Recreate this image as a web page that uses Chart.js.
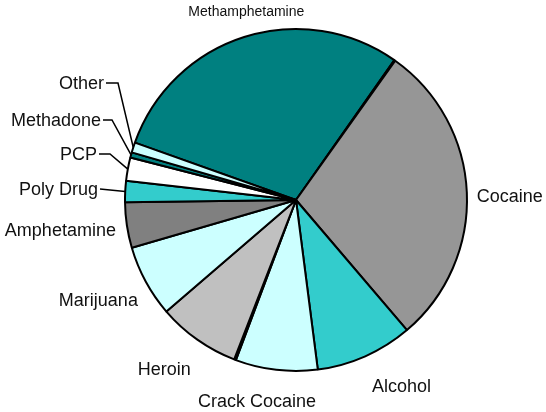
<!DOCTYPE html>
<html>
<head>
<meta charset="utf-8">
<script src="https://cdn.jsdelivr.net/npm/chart.js@4.4.1/dist/chart.umd.min.js"></script>
<style>
  html, body { margin: 0; padding: 0; background: #fff; }
  #wrap { width: 546px; height: 412px; }
</style>
</head>
<body>
<div id="wrap"><canvas id="drugChart" width="546" height="412"></canvas></div>
<script>
// Share of cases by primary drug (percent). Two unlabeled slivers sit between
// Methamphetamine/Cocaine and Crack Cocaine/Heroin.
const drugLabels = [
  "Methamphetamine", "", "Cocaine", "Alcohol", "Crack Cocaine", "",
  "Heroin", "Marijuana", "Amphetamine", "Poly Drug", "PCP", "Methadone", "Other"
];
const drugShares = [29.3, 0.1, 28.9, 9.2, 7.75, 0.17, 7.8, 6.8, 4.3, 2.0, 2.2, 0.5, 0.95];
const sliceColors = [
  "#008080", "#ffffff", "#969696", "#33cccc", "#ccffff", "#ffffff",
  "#c0c0c0", "#ccffff", "#808080", "#33cccc", "#ffffff", "#008080", "#ccffff"
];

// How each label sits next to its slice: radial labels use gap/align/offsets,
// the small left-hand slices get a leader line with an elbow.
const labelPlacement = [
  { gap: 26, align: "center", dx: 10, dy: 0, size: 14 },
  null,
  { gap: 10, align: "left", dx: 0, dy: 5 },
  { gap: 24, align: "left", dx: -3, dy: 9 },
  { gap: 29, align: "center", dx: -16, dy: 3 },
  null,
  { gap: 33, align: "center", dx: -14, dy: 3 },
  { gap: 10, align: "right", dx: 1, dy: 15 },
  { gap: 4, align: "right", dx: -7, dy: 5 },
  { leader: true, textX: 98, textY: 190, elbowX: 100 },
  { leader: true, textX: 97, textY: 155, elbowX: 110 },
  { leader: true, textX: 101, textY: 121, elbowX: 112 },
  { leader: true, textX: 104, textY: 84, elbowX: 118 }
];

const sliceLabels = {
  id: "sliceLabels",
  afterDatasetsDraw(chart) {
    const ctx = chart.ctx;
    const arcs = chart.getDatasetMeta(0).data;
    ctx.save();
    ctx.fillStyle = "#111";
    ctx.strokeStyle = "#000";
    ctx.lineWidth = 1.5;
    ctx.textBaseline = "middle";
    arcs.forEach((arc, i) => {
      const place = labelPlacement[i];
      if (!place) return;
      const mid = (arc.startAngle + arc.endAngle) / 2;
      const cos = Math.cos(mid), sin = Math.sin(mid);
      ctx.font = (place.size || 18) + "px 'Liberation Sans', Arial, sans-serif";
      if (place.leader) {
        const ex = arc.x + cos * arc.outerRadius;
        const ey = arc.y + sin * arc.outerRadius;
        const sy = place.textY - 1;
        ctx.beginPath();
        ctx.moveTo(place.textX + 2, sy);
        ctx.lineTo(place.elbowX, sy);
        ctx.lineTo(ex, ey);
        ctx.stroke();
        ctx.textAlign = "right";
        ctx.fillText(drugLabels[i], place.textX, place.textY);
      } else {
        const r = arc.outerRadius + place.gap;
        ctx.textAlign = place.align;
        ctx.fillText(drugLabels[i], arc.x + cos * r + place.dx, arc.y + sin * r + place.dy);
      }
    });
    ctx.restore();
  }
};

new Chart(document.getElementById("drugChart").getContext("2d"), {
  type: "pie",
  data: {
    labels: drugLabels,
    datasets: [{
      data: drugShares,
      backgroundColor: sliceColors,
      borderColor: "#000",
      borderWidth: 2
    }]
  },
  options: {
    responsive: false,
    animation: false,
    rotation: -70.4,
    radius: 171,
    layout: { padding: { left: 46, right: 0, top: 28, bottom: 40 } },
    plugins: {
      legend: { display: false },
      tooltip: { enabled: false }
    }
  },
  plugins: [sliceLabels]
});
</script>
</body>
</html>
